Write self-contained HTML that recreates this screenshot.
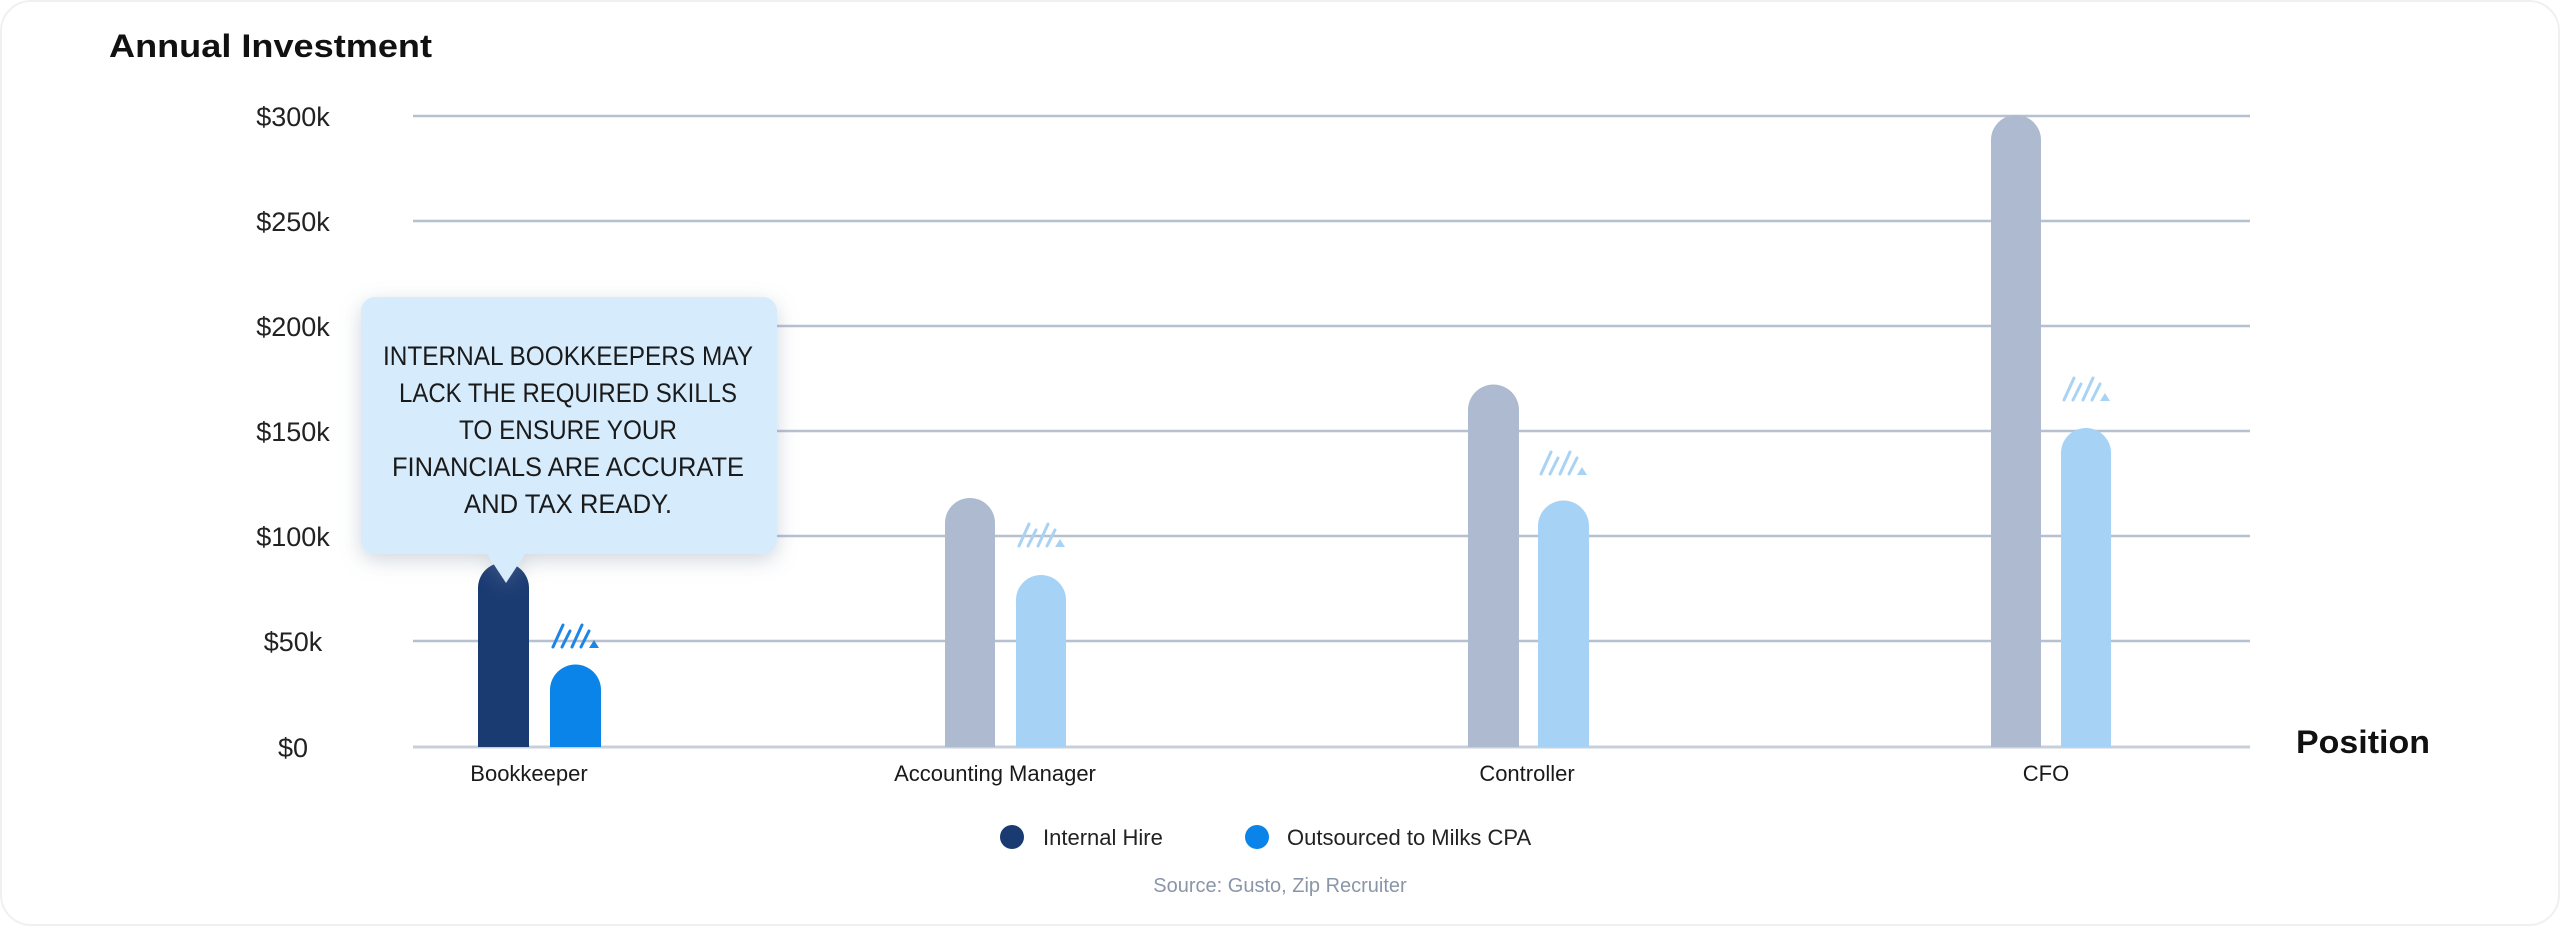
<!DOCTYPE html>
<html><head><meta charset="utf-8"><style>
html,body{margin:0;padding:0;background:#fff;}
svg{display:block;font-family:"Liberation Sans",sans-serif;}
</style></head><body>
<svg width="2560" height="926" viewBox="0 0 2560 926" xmlns="http://www.w3.org/2000/svg">
<defs>
<filter id="sh" x="-20%" y="-20%" width="140%" height="150%"><feDropShadow dx="0" dy="6" stdDeviation="10" flood-color="#7a8aa0" flood-opacity="0.35"/></filter>
<g id="hatch" stroke-width="3" stroke-linecap="round">
<line x1="0" y1="24" x2="10" y2="2"/><line x1="9" y1="24" x2="17" y2="8"/><line x1="19" y1="24" x2="29" y2="2"/><line x1="28" y1="24" x2="36" y2="8"/>
<polygon points="36,25 46,25 41,17" stroke="none"/>
</g>
</defs>
<rect x="1" y="1" width="2558" height="924" rx="30" fill="#fff" stroke="#eef0f3" stroke-width="2"/>
<text x="109" y="57" font-size="32" font-weight="bold" fill="#111" textLength="323" lengthAdjust="spacingAndGlyphs">Annual Investment</text>
<g stroke="#b6c0ce" stroke-width="2.5">
<line x1="413" y1="116" x2="2250" y2="116"/>
<line x1="413" y1="221" x2="2250" y2="221"/>
<line x1="413" y1="326" x2="2250" y2="326"/>
<line x1="413" y1="431" x2="2250" y2="431"/>
<line x1="413" y1="536" x2="2250" y2="536"/>
<line x1="413" y1="641" x2="2250" y2="641"/>
<line x1="413" y1="747" x2="2250" y2="747" stroke="#c8cfd9" stroke-width="3"/>
</g>
<g font-size="27" fill="#222" text-anchor="middle">
<text x="293" y="126">$300k</text>
<text x="293" y="231">$250k</text>
<text x="293" y="336">$200k</text>
<text x="293" y="441">$150k</text>
<text x="293" y="546">$100k</text>
<text x="293" y="651">$50k</text>
<text x="293" y="757">$0</text>
</g>
<path d="M478 747 V588 A25.5 25.5 0 0 1 529 588 V747Z" fill="#1a3a72"/>
<path d="M550 747 V690 A25.5 25.5 0 0 1 601 690 V747Z" fill="#0a84e8"/>
<path d="M945 747 V523 A25 25 0 0 1 995 523 V747Z" fill="#adbad0"/>
<path d="M1016 747 V600 A25 25 0 0 1 1066 600 V747Z" fill="#a5d2f5"/>
<path d="M1468 747 V410 A25.5 25.5 0 0 1 1519 410 V747Z" fill="#adbad0"/>
<path d="M1538 747 V526 A25.5 25.5 0 0 1 1589 526 V747Z" fill="#a5d2f5"/>
<path d="M1991 747 V140 A25 25 0 0 1 2041 140 V747Z" fill="#adbad0"/>
<path d="M2061 747 V453 A25 25 0 0 1 2111 453 V747Z" fill="#a5d2f5"/>
<use href="#hatch" x="553" y="623" fill="#1c86e6" stroke="#1c86e6"/>
<use href="#hatch" x="1019" y="522" fill="#a9d3f4" stroke="#a9d3f4"/>
<use href="#hatch" x="1541" y="450" fill="#a9d3f4" stroke="#a9d3f4"/>
<use href="#hatch" x="2064" y="376" fill="#a9d3f4" stroke="#a9d3f4"/>
<g filter="url(#sh)">
<path d="M375 297 H763 A14 14 0 0 1 777 311 V540 A14 14 0 0 1 763 554 H525 L506 583 L487 554 H375 A14 14 0 0 1 361 540 V311 A14 14 0 0 1 375 297Z" fill="#d6ebfc"/>
</g>
<g font-size="27" fill="#1a1a1a" text-anchor="middle">
<text x="568" y="365" textLength="370" lengthAdjust="spacingAndGlyphs">INTERNAL BOOKKEEPERS MAY</text>
<text x="568" y="402" textLength="338" lengthAdjust="spacingAndGlyphs">LACK THE REQUIRED SKILLS</text>
<text x="568" y="439" textLength="218" lengthAdjust="spacingAndGlyphs">TO ENSURE YOUR</text>
<text x="568" y="476" textLength="352" lengthAdjust="spacingAndGlyphs">FINANCIALS ARE ACCURATE</text>
<text x="568" y="513" textLength="208" lengthAdjust="spacingAndGlyphs">AND TAX READY.</text>
</g>
<g font-size="22" fill="#1a1a1a" text-anchor="middle">
<text x="529" y="781">Bookkeeper</text>
<text x="995" y="781">Accounting Manager</text>
<text x="1527" y="781">Controller</text>
<text x="2046" y="781">CFO</text>
</g>
<text x="2296" y="753" font-size="32" font-weight="bold" fill="#111" textLength="134" lengthAdjust="spacingAndGlyphs">Position</text>
<circle cx="1012" cy="837" r="12" fill="#1a3a72"/>
<text x="1043" y="845" font-size="22" fill="#222">Internal Hire</text>
<circle cx="1257" cy="837" r="12" fill="#0a84e8"/>
<text x="1287" y="845" font-size="22" fill="#222">Outsourced to Milks CPA</text>
<text x="1280" y="892" font-size="20" fill="#8a96a8" text-anchor="middle">Source: Gusto, Zip Recruiter</text>
</svg>
</body></html>
